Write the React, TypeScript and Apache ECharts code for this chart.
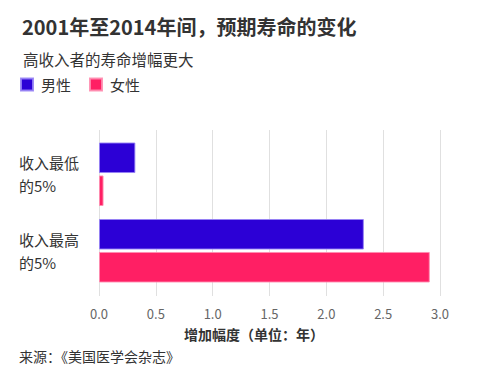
import React, { useEffect, useRef } from "react";
import * as echarts from "echarts";

const categories = ["收入最低\n的5%", "收入最高\n的5%"];
const maleValues = [0.32, 2.33];
const femaleValues = [0.04, 2.91];
const seriesNames = ["男性", "女性"];
const xTicks = { min: 0, max: 3, interval: 0.5 };

const FONT = "'Noto Sans CJK SC', 'Noto Sans', sans-serif";
const MALE = "#2c00d6";
const FEMALE = "#ff1f64";

export default function App() {
  const ref = useRef<HTMLDivElement>(null);
  useEffect(() => {
    document.body.style.margin = "0";
    const chart = echarts.init(ref.current!, null, { renderer: "svg" });
    chart.setOption({
      animation: false,
      backgroundColor: "#ffffff",
      textStyle: { fontFamily: FONT },
      title: [
        {
          text: "2001年至2014年间，预期寿命的变化",
          left: 17,
          top: 11,
          textStyle: { fontSize: 20, fontWeight: "bold", color: "#333333", fontFamily: FONT },
        },
        {
          text: "高收入者的寿命增幅更大",
          left: 18,
          top: 46,
          textStyle: { fontSize: 15.5, fontWeight: "normal", color: "#333333", fontFamily: FONT },
        },
      ],
      legend: {
        left: 15,
        top: 72,
        icon: "rect",
        itemWidth: 12,
        itemHeight: 12,
        itemGap: 18,
        data: seriesNames,
        textStyle: { fontSize: 15, color: "#333333", fontFamily: FONT, padding: [0, 0, 0, 3] },
      },
      grid: { left: 99, right: 40, top: 136, bottom: 84, containLabel: false },
      xAxis: [
        {
          type: "value",
          min: xTicks.min,
          max: xTicks.max,
          interval: xTicks.interval,
          axisLine: { show: false },
          axisTick: { show: true, length: 7, lineStyle: { color: "#e0e0e0" } },
          splitLine: { show: true, lineStyle: { color: "#e0e0e0", width: 1 } },
          axisLabel: {
            margin: 18,
            fontSize: 13,
            color: "#666666",
            fontFamily: FONT,
            formatter: (v: number) => v.toFixed(1),
          },
        },
        {
          type: "value",
          position: "top",
          min: xTicks.min,
          max: xTicks.max,
          interval: xTicks.interval,
          axisLine: { show: false },
          axisTick: { show: true, length: 6, lineStyle: { color: "#e0e0e0" } },
          splitLine: { show: false },
          axisLabel: { show: false },
        },
      ],
      yAxis: {
        type: "category",
        inverse: true,
        data: categories,
        axisLine: { show: false },
        axisTick: { show: false },
        axisLabel: {
          align: "left",
          margin: 80,
          fontSize: 15,
          lineHeight: 23,
          color: "#333333",
          fontFamily: FONT,
        },
      },
      graphic: [
        {
          type: "text",
          left: 184,
          top: 327,
          style: {
            text: "增加幅度（单位：年）",
            fontSize: 14,
            fontWeight: "bold",
            fill: "#333333",
            fontFamily: FONT,
          },
        },
        {
          type: "text",
          left: 19,
          top: 349,
          style: {
            text: "来源：《美国医学会杂志》",
            fontSize: 14,
            fill: "#333333",
            fontFamily: FONT,
          },
        },
      ],
      series: [
        {
          name: seriesNames[0],
          type: "bar",
          data: maleValues,
          barGap: "8%",
          barCategoryGap: "17%",
          itemStyle: { color: MALE, borderColor: "rgba(150,130,245,0.9)", borderWidth: 1 },
        },
        {
          name: seriesNames[1],
          type: "bar",
          data: femaleValues,
          itemStyle: { color: FEMALE, borderColor: "rgba(255,140,175,0.9)", borderWidth: 1 },
        },
      ],
    });
    return () => chart.dispose();
  }, []);
  return <div ref={ref} style={{ width: 480, height: 373 }} />;
}
